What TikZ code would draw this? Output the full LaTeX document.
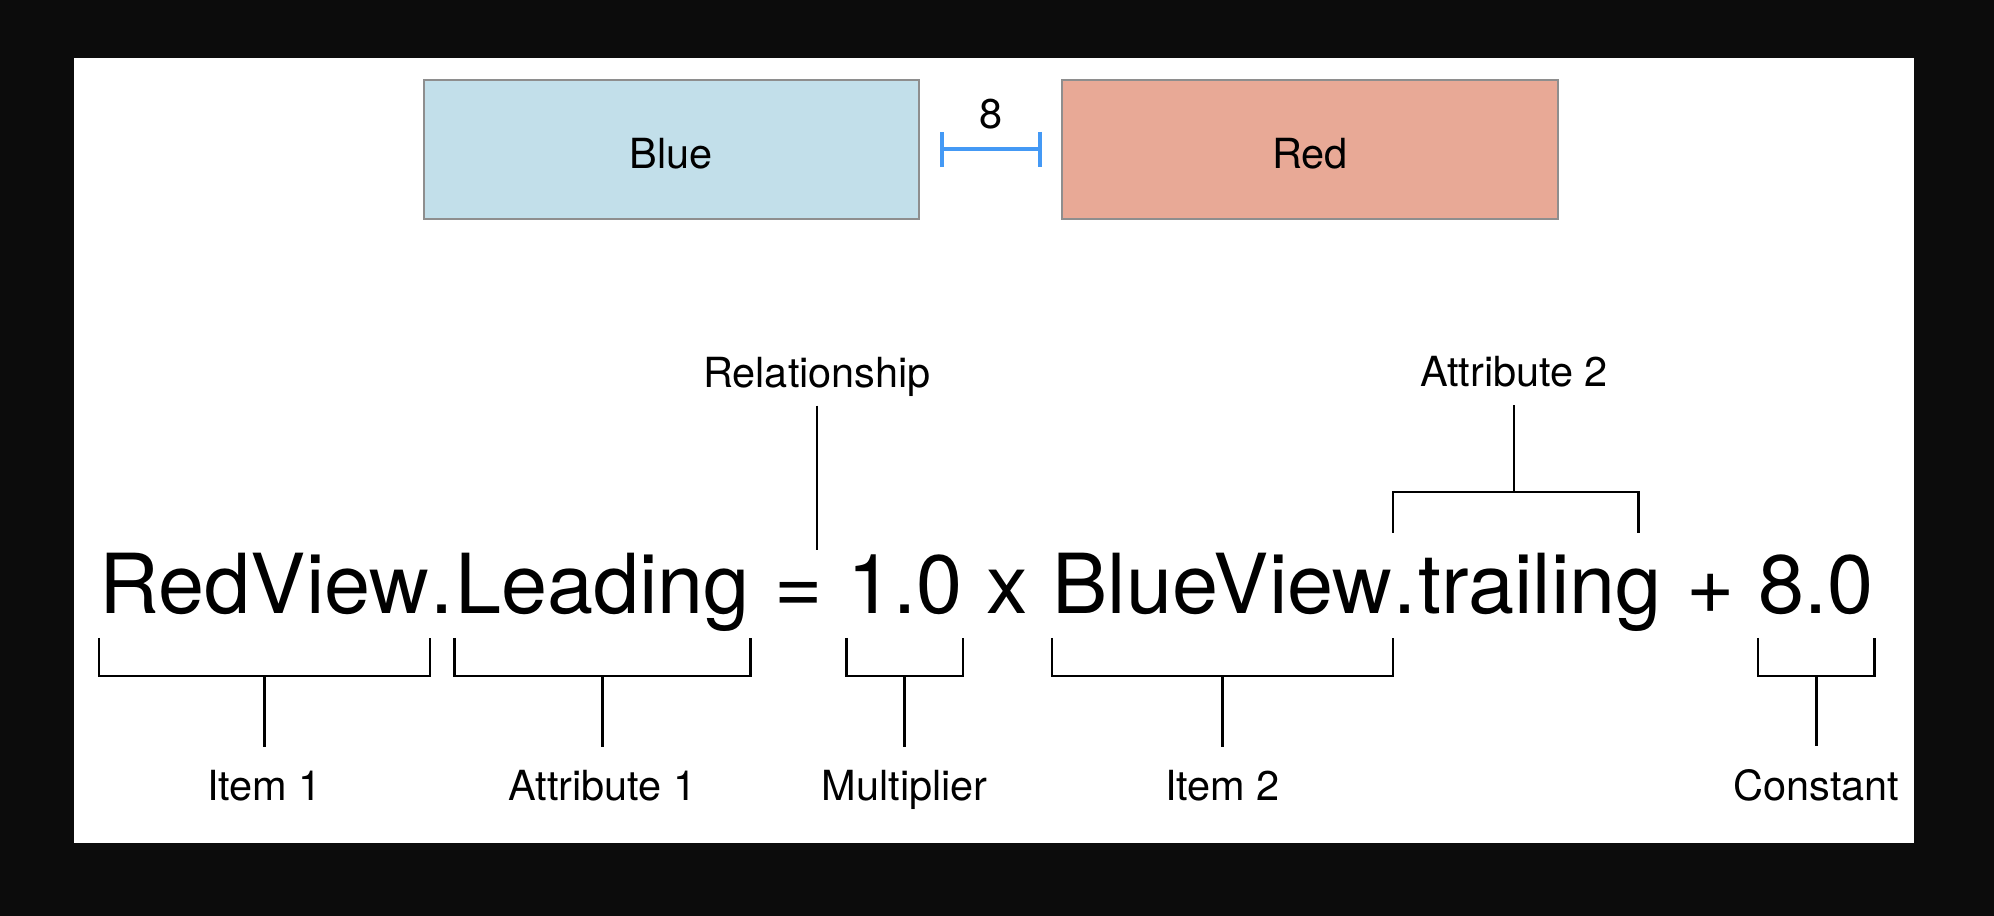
\documentclass[tikz,border=0pt]{standalone}
\usepackage{fontspec}
\setmainfont{TeX Gyre Heros}
\usetikzlibrary{arrows.meta}
\definecolor{boxline}{HTML}{8E8E8E}
\definecolor{bluefill}{HTML}{C2DFEA}
\definecolor{redfill}{HTML}{E8A996}
\definecolor{gapblue}{HTML}{4499F5}
\definecolor{darkbg}{HTML}{0C0C0C}

\begin{document}
\begin{tikzpicture}[x=0.01cm, y=-0.01cm,
  every node/.style={inner sep=0pt},
  viewbox/.style={draw=boxline, line width=0.02cm, minimum width=4.95cm, minimum height=1.39cm, text height=0.37cm, text depth=0pt, font=\fontsize{11.8pt}{14pt}\selectfont},
  eqtxt/.style={anchor=base west, font=\fontsize{23.55pt}{28pt}\selectfont},
  tag/.style={anchor=base, inner ysep=0.22cm, font=\fontsize{11.8pt}{14pt}\selectfont},
  brace/.style={black, line width=0.025cm}]
\useasboundingbox (0,0) rectangle (1994,916);
\fill[darkbg] (0,0) rectangle (1994,916);
\fill[white] (74,58) rectangle (1914,843);

\node[viewbox, fill=bluefill] (blue) at (671.5,149.5) {Blue};
\node[viewbox, fill=redfill] (red) at (1310,149.5) {Red};
\draw[gapblue, line width=0.04cm, shorten <=0.2cm, shorten >=0.19cm, {Bar[width=0.35cm]}-{Bar[width=0.35cm]}] (blue) -- (red) node[midway, above=0.18cm, text=black, font=\fontsize{11.8pt}{14pt}\selectfont] (gap) {8};

\node[eqtxt] (redv) at (99,614) {RedView};
\node[eqtxt] (dot1) at (redv.base east) {.};
\node[eqtxt] (lead) at (dot1.base east) {Leading};
\node[eqtxt] (equals) at (lead.base east) {\ =\ \null};
\node[eqtxt] (mult) at (equals.base east) {1.0};
\node[eqtxt] (times) at (mult.base east) {\ x\ \null};
\node[eqtxt] (bluev) at (times.base east) {BlueView};
\node[eqtxt] (dot2) at (bluev.base east) {.};
\node[eqtxt] (trail) at (dot2.base east) {trailing};
\node[eqtxt] (plus) at (trail.base east) {\ +\ \null};
\node[eqtxt] (const) at (plus.base east) {8.0};

\foreach \part/\name in {redv/Item 1, lead/Attribute 1, mult/Multiplier, bluev/Item 2, const/Constant} {
  \draw[brace] (\part.west |- 0,638) -- (\part.west |- 0,676) -- (\part.east |- 0,676) -- (\part.east |- 0,638);
  \node[tag] (\part-tag) at (\part.base |- 0,800) {\name};
  \draw[brace] (\part.base |- 0,676) -- (\part-tag.north);
}

\node[tag, inner ysep=0.08cm] (rel) at (817,388) {Relationship};
\draw[brace] (rel.south) -- (rel.south |- 0,550);

\coordinate (trailend) at ([xshift=-0.24cm]trail.east);
\node[tag, inner ysep=0.17cm] (attr2) at (1514,387) {Attribute 2};
\draw[brace] (dot2.west |- 0,533) -- (dot2.west |- 0,492) -- (trailend |- 0,492) -- (trailend |- 0,533);
\draw[brace] (attr2.south) -- (attr2.south |- 0,492);
\end{tikzpicture}
\end{document}
